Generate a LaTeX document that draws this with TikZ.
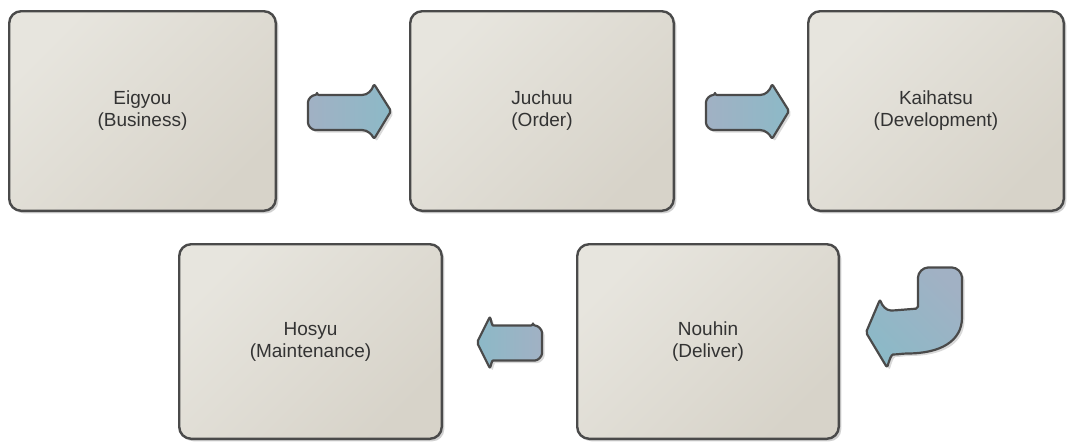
\documentclass[tikz,border=0pt]{standalone}
\usepackage{fontspec}
\setmainfont{Liberation Sans}
\usetikzlibrary{positioning,calc,shadows}

\definecolor{boxlight}{HTML}{E7E5DE}
\definecolor{boxdark}{HTML}{D7D3C9}
\definecolor{boxline}{HTML}{4A4A4A}
\definecolor{arrowteal}{HTML}{8CB9C7}
\definecolor{arrowgrey}{HTML}{A1B1C4}
\definecolor{textgrey}{HTML}{333333}

\tikzset{
  stage/.style={draw=boxline, line width=2.4pt, rounded corners=12pt,
    top color=boxlight, bottom color=boxdark, shading angle=45,
    text=textgrey, align=center, font=\fontsize{19}{22}\selectfont,
    drop shadow={shadow xshift=2.5pt, shadow yshift=-2.5pt, fill=black, opacity=0.18}},
  blockarrow/.style={draw=boxline, line width=2.2pt, rounded corners=2pt, line join=round,
    drop shadow={shadow xshift=2.5pt, shadow yshift=-2.5pt, fill=black, opacity=0.15}}
}

\begin{document}
\begin{tikzpicture}[x=1pt, y=-1pt]
    \useasboundingbox (0,0) rectangle (1070,442);

    % top row
    \node[stage, minimum width=266.6pt, minimum height=199.6pt] (eigyou) at (142.5,111) {Eigyou\\(Business)};
    \node[stage, minimum width=263.6pt, minimum height=199.6pt] (juchuu) at (542,111) {Juchuu\\(Order)};
    \node[stage, minimum width=255.6pt, minimum height=199.6pt] (kaihatsu) at (936,111) {Kaihatsu\\(Development)};

    % bottom row
    \node[stage, minimum width=262.6pt, minimum height=194.6pt] (hosyu) at (310.5,341.5) {Hosyu\\(Maintenance)};
    \node[stage, minimum width=261.6pt, minimum height=194.6pt] (nouhin) at (708,341.5) {Nouhin\\(Deliver)};

    \coordinate (a1) at ($(eigyou.east)+(31,1)$);
    \coordinate (a2) at ($(juchuu.east)+(31,1)$);
    \coordinate (a3) at ($(nouhin.west)+(-34,1)$);
    \coordinate (a4) at (nouhin.east);

    % Eigyou -> Juchuu
    \begin{scope}[shift={(a1)}]
        \draw[blockarrow, left color=arrowgrey, right color=arrowteal]
            (9,-17) -- (52,-17) .. controls (60,-17) and (64,-22) .. (66,-28)
            -- (83,-1) -- (66,27) .. controls (64,23) and (60,18) .. (52,18)
            -- (9,18) .. controls (4,18) and (0,14) .. (0,9)
            -- (0,-8) .. controls (0,-13) and (4,-17) .. (9,-17) -- cycle;
    \end{scope}

    % Juchuu -> Kaihatsu
    \begin{scope}[shift={(a2)}]
        \draw[blockarrow, left color=arrowgrey, right color=arrowteal]
            (9,-17) -- (52,-17) .. controls (60,-17) and (64,-22) .. (66,-28)
            -- (83,-1) -- (66,27) .. controls (64,23) and (60,18) .. (52,18)
            -- (9,18) .. controls (4,18) and (0,14) .. (0,9)
            -- (0,-8) .. controls (0,-13) and (4,-17) .. (9,-17) -- cycle;
    \end{scope}

    % Kaihatsu -> Nouhin
    \begin{scope}[shift={(a4)}]
        \draw[blockarrow, top color=arrowgrey, bottom color=arrowteal, shading angle=-45]
            (78,-33) -- (78,-62) .. controls (78,-69) and (83,-74) .. (90,-74)
            -- (110,-74) .. controls (117,-74) and (122,-69) .. (122,-62)
            -- (122,-26) .. controls (122,0) and (100,12) .. (65,12)
            -- (55,13) .. controls (51,13) and (49,20) .. (47,26)
            -- (26,-9) -- (40,-42) .. controls (42,-36) and (46,-31) .. (53,-31)
            -- cycle;
    \end{scope}

    % Nouhin -> Hosyu
    \begin{scope}[shift={(a3)}]
        \draw[blockarrow, left color=arrowteal, right color=arrowgrey]
            (-9,-17) -- (-47,-17) .. controls (-50,-17) and (-51,-22) .. (-52,-26)
            -- (-65,0) -- (-52,26) .. controls (-51,22) and (-50,18) .. (-47,18)
            -- (-9,18) .. controls (-4,18) and (0,14) .. (0,9)
            -- (0,-8) .. controls (0,-13) and (-4,-17) .. (-9,-17) -- cycle;
    \end{scope}
\end{tikzpicture}
\end{document}
